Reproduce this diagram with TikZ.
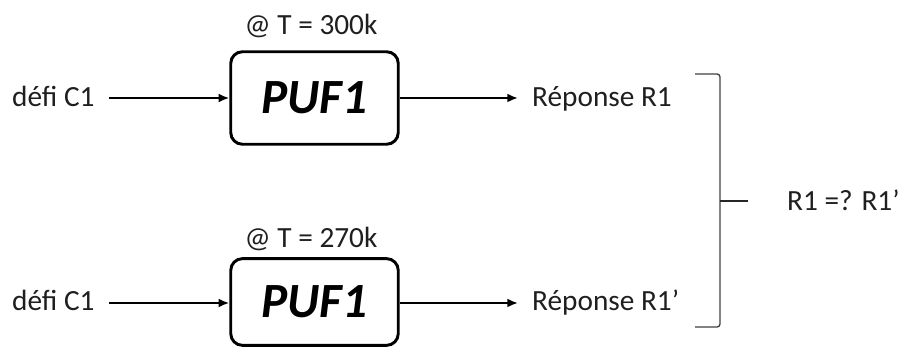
\documentclass[tikz,border=0pt]{standalone}
\usepackage{fontspec}
\setmainfont{Carlito}
\usetikzlibrary{arrows.meta,positioning}

\begin{document}
\begin{tikzpicture}[
  x=0.03cm,y=-0.03cm,
  txt/.style={inner sep=0pt,font=\fontsize{25}{30}\selectfont,text=black!88},
  puf/.style={draw,rounded corners=10pt,line width=2.5pt,minimum width=143pt,
    inner sep=0pt,font=\fontsize{42}{48}\selectfont\bfseries\itshape},
  arr/.style={line width=1.7pt,-{Latex[length=9pt,width=7.5pt]}},
  brk/.style={line width=1.1pt,draw=black!75,rounded corners=2.5pt}
]
  \useasboundingbox (0,0) rectangle (900,349);
  % first measurement
  \node[puf,minimum height=79pt] (pufA) at (314.5,98) {PUF1};
  \node[txt,anchor=base] (tA) at (311,35) {@ T = 300k};
  \node[txt,anchor=base west] (inA) at (12,107) {défi C1};
  \node[txt,anchor=base west] (outA) at (532,107) {Réponse R1};
  \draw[arr,shorten <=12pt] (inA.east |- pufA.west) -- (pufA.west);
  \draw[arr,shorten >=12pt] (pufA.east) -- (pufA.east -| outA.west);
  % second measurement
  \node[puf,minimum height=74pt] (pufB) at (314.5,302) {PUF1};
  \node[txt,anchor=base] (tB) at (311,248) {@ T = 270k};
  \node[txt,anchor=base west] (inB) at (12,311) {défi C1};
  \node[txt,anchor=base west] (outB) at (532,311) {Réponse R1’};
  \draw[arr,shorten <=12pt] (inB.east |- 0,303) -- (pufB.west |- 0,303);
  \draw[arr,shorten >=12pt] (pufB.east |- 0,303) -- (outB.west |- 0,303);
  % comparison
  \draw[brk] (695,74) -- (720,74) -- (720,327) -- (695,327);
  \coordinate (tip) at (720,201);
  \node[txt,anchor=base west] (cmp) at (787,211) {R1 =? R1’};
  \draw[line width=1.3pt,draw=black!85] (tip) -- ++(28,0);
\end{tikzpicture}
\end{document}
